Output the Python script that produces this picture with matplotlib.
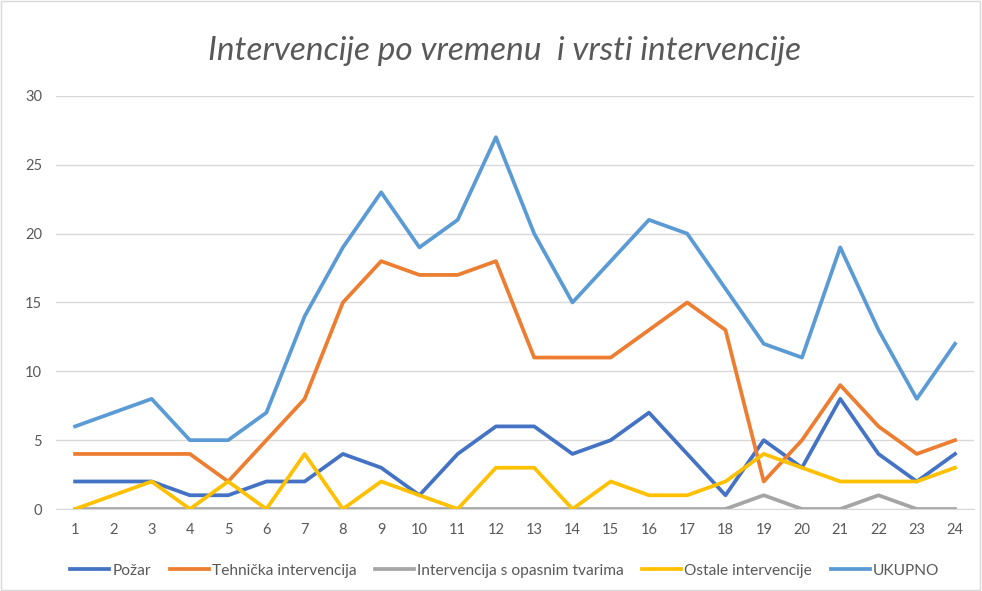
import matplotlib
matplotlib.use("Agg")
import matplotlib.pyplot as plt
from matplotlib.patches import Rectangle

plt.rcParams['font.family'] = ['Lato', 'DejaVu Sans']

sati = list(range(1, 25))
pozar = [2, 2, 2, 1, 1, 2, 2, 4, 3, 1, 4, 6, 6, 4, 5, 7, 4, 1, 5, 3, 8, 4, 2, 4]
tehnicka = [4, 4, 4, 4, 2, 5, 8, 15, 18, 17, 17, 18, 11, 11, 11, 13, 15, 13, 2, 5, 9, 6, 4, 5]
tvari = [0, 0, 0, 0, 0, 0, 0, 0, 0, 0, 0, 0, 0, 0, 0, 0, 0, 0, 1, 0, 0, 1, 0, 0]
ostale = [0, 1, 2, 0, 2, 0, 4, 0, 2, 1, 0, 3, 3, 0, 2, 1, 1, 2, 4, 3, 2, 2, 2, 3]
ukupno = [6, 7, 8, 5, 5, 7, 14, 19, 23, 19, 21, 27, 20, 15, 18, 21, 20, 16, 12, 11, 19, 13, 8, 12]

serije = [
    ("Požar", pozar, "#4472C4"),
    ("Tehnička intervencija", tehnicka, "#ED7D31"),
    ("Intervencija s opasnim tvarima", tvari, "#A5A5A5"),
    ("Ostale intervencije", ostale, "#FFC000"),
    ("UKUPNO", ukupno, "#5B9BD5"),
]

fig = plt.figure(figsize=(9.82, 5.91), dpi=100)
ax = fig.add_axes([0.057, 0.1387, 0.935, 0.699])

for ime, vrijednosti, boja in serije:
    ax.plot(sati, vrijednosti, color=boja, lw=2.7, label=ime, solid_joinstyle='round')

ax.set_xlim(0.5, 24.5)
ax.set_ylim(0, 30)
ax.set_xticks(sati)
ax.set_yticks(range(0, 31, 5))
ax.grid(axis='y', color='#D9D9D9', lw=1)
ax.set_axisbelow(True)
ax.tick_params(length=0, colors='#595959', labelsize=10.5, pad=10)
for s in ['top', 'right', 'left']:
    ax.spines[s].set_visible(False)
ax.spines['bottom'].set_color('#D9D9D9')

fig.text(0.514, 0.913, "Intervencije po vremenu  i vrsti intervencije",
         ha='center', va='center', fontsize=24, style='italic', color='#595959')

fig.legend(loc='center', bbox_to_anchor=(0.514, 0.034), ncol=5, frameon=False,
           fontsize=11.2, handlelength=2.5, handletextpad=0.2, columnspacing=1.2,
           labelcolor='#595959')

fig.patches.append(Rectangle((0.001, 0.001), 0.997, 0.997, transform=fig.transFigure,
                             fill=False, edgecolor='#D9D9D9', lw=1))

fig.savefig("out.png", dpi=100)
